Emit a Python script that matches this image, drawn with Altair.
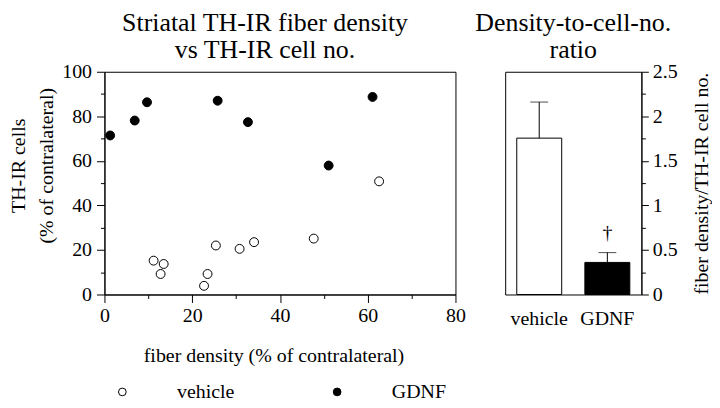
import altair as alt
import pandas as pd

SERIF = "Liberation Serif"

# scatter data
veh_fiber = [11.2, 13.5, 12.8, 22.7, 23.5, 25.4, 30.8, 34.1, 47.7, 62.6]
veh_cells = [15.2, 13.7, 9.2, 3.9, 9.2, 22.0, 20.5, 23.5, 25.1, 50.8]
gdnf_fiber = [1.3, 6.9, 9.7, 25.8, 32.7, 51.1, 61.1]
gdnf_cells = [71.4, 78.1, 86.3, 87.0, 77.4, 57.9, 88.7]
groups = ["vehicle", "GDNF"]

# bar data
bar_cats = ["vehicle", "GDNF"]
bar_means = [1.755, 0.36]
bar_upper = [2.16, 0.47]
bar_fill = ["white", "black"]
bar_marks = ["", "\u2020"]

x_ticks = list(range(0, 81, 10))
y_ticks = list(range(0, 101, 10))
r_ticks = [i * 0.25 for i in range(11)]

scatter_df = pd.DataFrame({
    "fiber": veh_fiber + gdnf_fiber,
    "cells": veh_cells + gdnf_cells,
    "group": [groups[0]] * len(veh_fiber) + [groups[1]] * len(gdnf_fiber),
})

bar_df = pd.DataFrame({
    "cond": bar_cats,
    "ratio": bar_means,
    "upper": bar_upper,
    "color": bar_fill,
    "mark": bar_marks,
})

common = dict(labelFont=SERIF, titleFont=SERIF, labelColor="black", titleColor="black",
              domainColor="black", tickColor="black", grid=False,
              labelFlush=False, labelOverlap=False, titleFontWeight="normal")

scatter = alt.Chart(scatter_df).mark_circle(
    size=80, stroke="black", strokeWidth=1, opacity=1
).encode(
    x=alt.X("fiber:Q", scale=alt.Scale(domain=[0, 80], nice=False),
            axis=alt.Axis(values=x_ticks,
                          labelExpr="datum.value % 20 == 0 ? datum.label : ''",
                          tickSize={"condition": {"test": "datum.value % 20 != 0", "value": 4}, "value": 8},
                          labelFontSize=20, labelPadding=3,
                          title="fiber density (% of contralateral)", titleFontSize=20,
                          titlePadding=20, titleX=170, **common)),
    y=alt.Y("cells:Q", scale=alt.Scale(domain=[0, 100], nice=False),
            axis=alt.Axis(values=y_ticks,
                          labelExpr="datum.value % 20 == 0 ? datum.label : ''",
                          tickSize={"condition": {"test": "datum.value % 20 != 0", "value": 4}, "value": 8},
                          labelFontSize=20, labelPadding=5,
                          title=["TH-IR cells", "(% of contralateral)"], titleFontSize=20,
                          titlePadding=5, titleY=94, titleLineHeight=28, **common)),
    fill=alt.Fill("group:N", scale=alt.Scale(domain=groups, range=["white", "black"]),
                  legend=alt.Legend(orient="none", legendX=8, legendY=312, direction="horizontal",
                                    title=None, symbolType="circle", symbolSize=60,
                                    symbolStrokeColor="black", symbolStrokeWidth=1,
                                    labelFont=SERIF, labelFontSize=20, labelColor="black",
                                    labelOffset=45, columnPadding=93)),
).properties(
    width=353, height=224,
    title=alt.TitleParams(["Striatal TH-IR fiber density", "vs TH-IR cell no."],
                          font=SERIF, fontSize=26, fontWeight="normal", color="black",
                          anchor="middle", frame="group", dx=-15, lineHeight=27, offset=-1),
)

base = alt.Chart(bar_df).encode(
    x=alt.X("cond:N", sort=bar_cats,
            scale=alt.Scale(paddingInner=0.34, paddingOuter=0.17),
            axis=alt.Axis(title=None, ticks=False, domain=False, labelAngle=0,
                          labelFontSize=20, labelPadding=14, **common))
)

ry = alt.Axis(orient="right", values=r_ticks,
              labelExpr="datum.value % 0.5 == 0 ? '' + datum.value : ''",
              tickSize={"condition": {"test": "datum.value % 0.5 != 0", "value": 4}, "value": 7},
              labelFontSize=20, labelPadding=4,
              title="fiber density/TH-IR cell no.", titleFontSize=20,
              titleAngle=270, titleBaseline="top", titlePadding=14, **common)

bars = base.mark_bar(stroke="black", strokeWidth=1).encode(
    y=alt.Y("ratio:Q", scale=alt.Scale(domain=[0, 2.5], nice=False), axis=ry),
    fill=alt.Fill("color:N", scale=None),
)

err = base.mark_rule(color="black", strokeWidth=1).encode(
    y=alt.Y("ratio:Q", axis=ry), y2="upper:Q"
)
cap = base.mark_tick(color="black", size=18, thickness=1, orient="horizontal").encode(
    y=alt.Y("upper:Q", axis=ry)
)
dag = base.mark_text(font=SERIF, fontSize=20, dy=-20, color="black").encode(
    y=alt.Y("upper:Q", axis=ry), text="mark:N"
)

barchart = alt.layer(bars, err, cap, dag).properties(
    width=137, height=224,
    title=alt.TitleParams(["Density-to-cell-no.", "ratio"],
                          font=SERIF, fontSize=26, fontWeight="normal", color="black",
                          anchor="middle", frame="group", lineHeight=27, offset=-1),
)

chart = alt.hconcat(scatter, barchart, spacing=50, bounds="flush").properties(
    padding=0, background="white"
).configure_view(
    stroke="black", strokeWidth=1
)

chart.save("out.html", embed_options={"renderer": "svg", "actions": False})
